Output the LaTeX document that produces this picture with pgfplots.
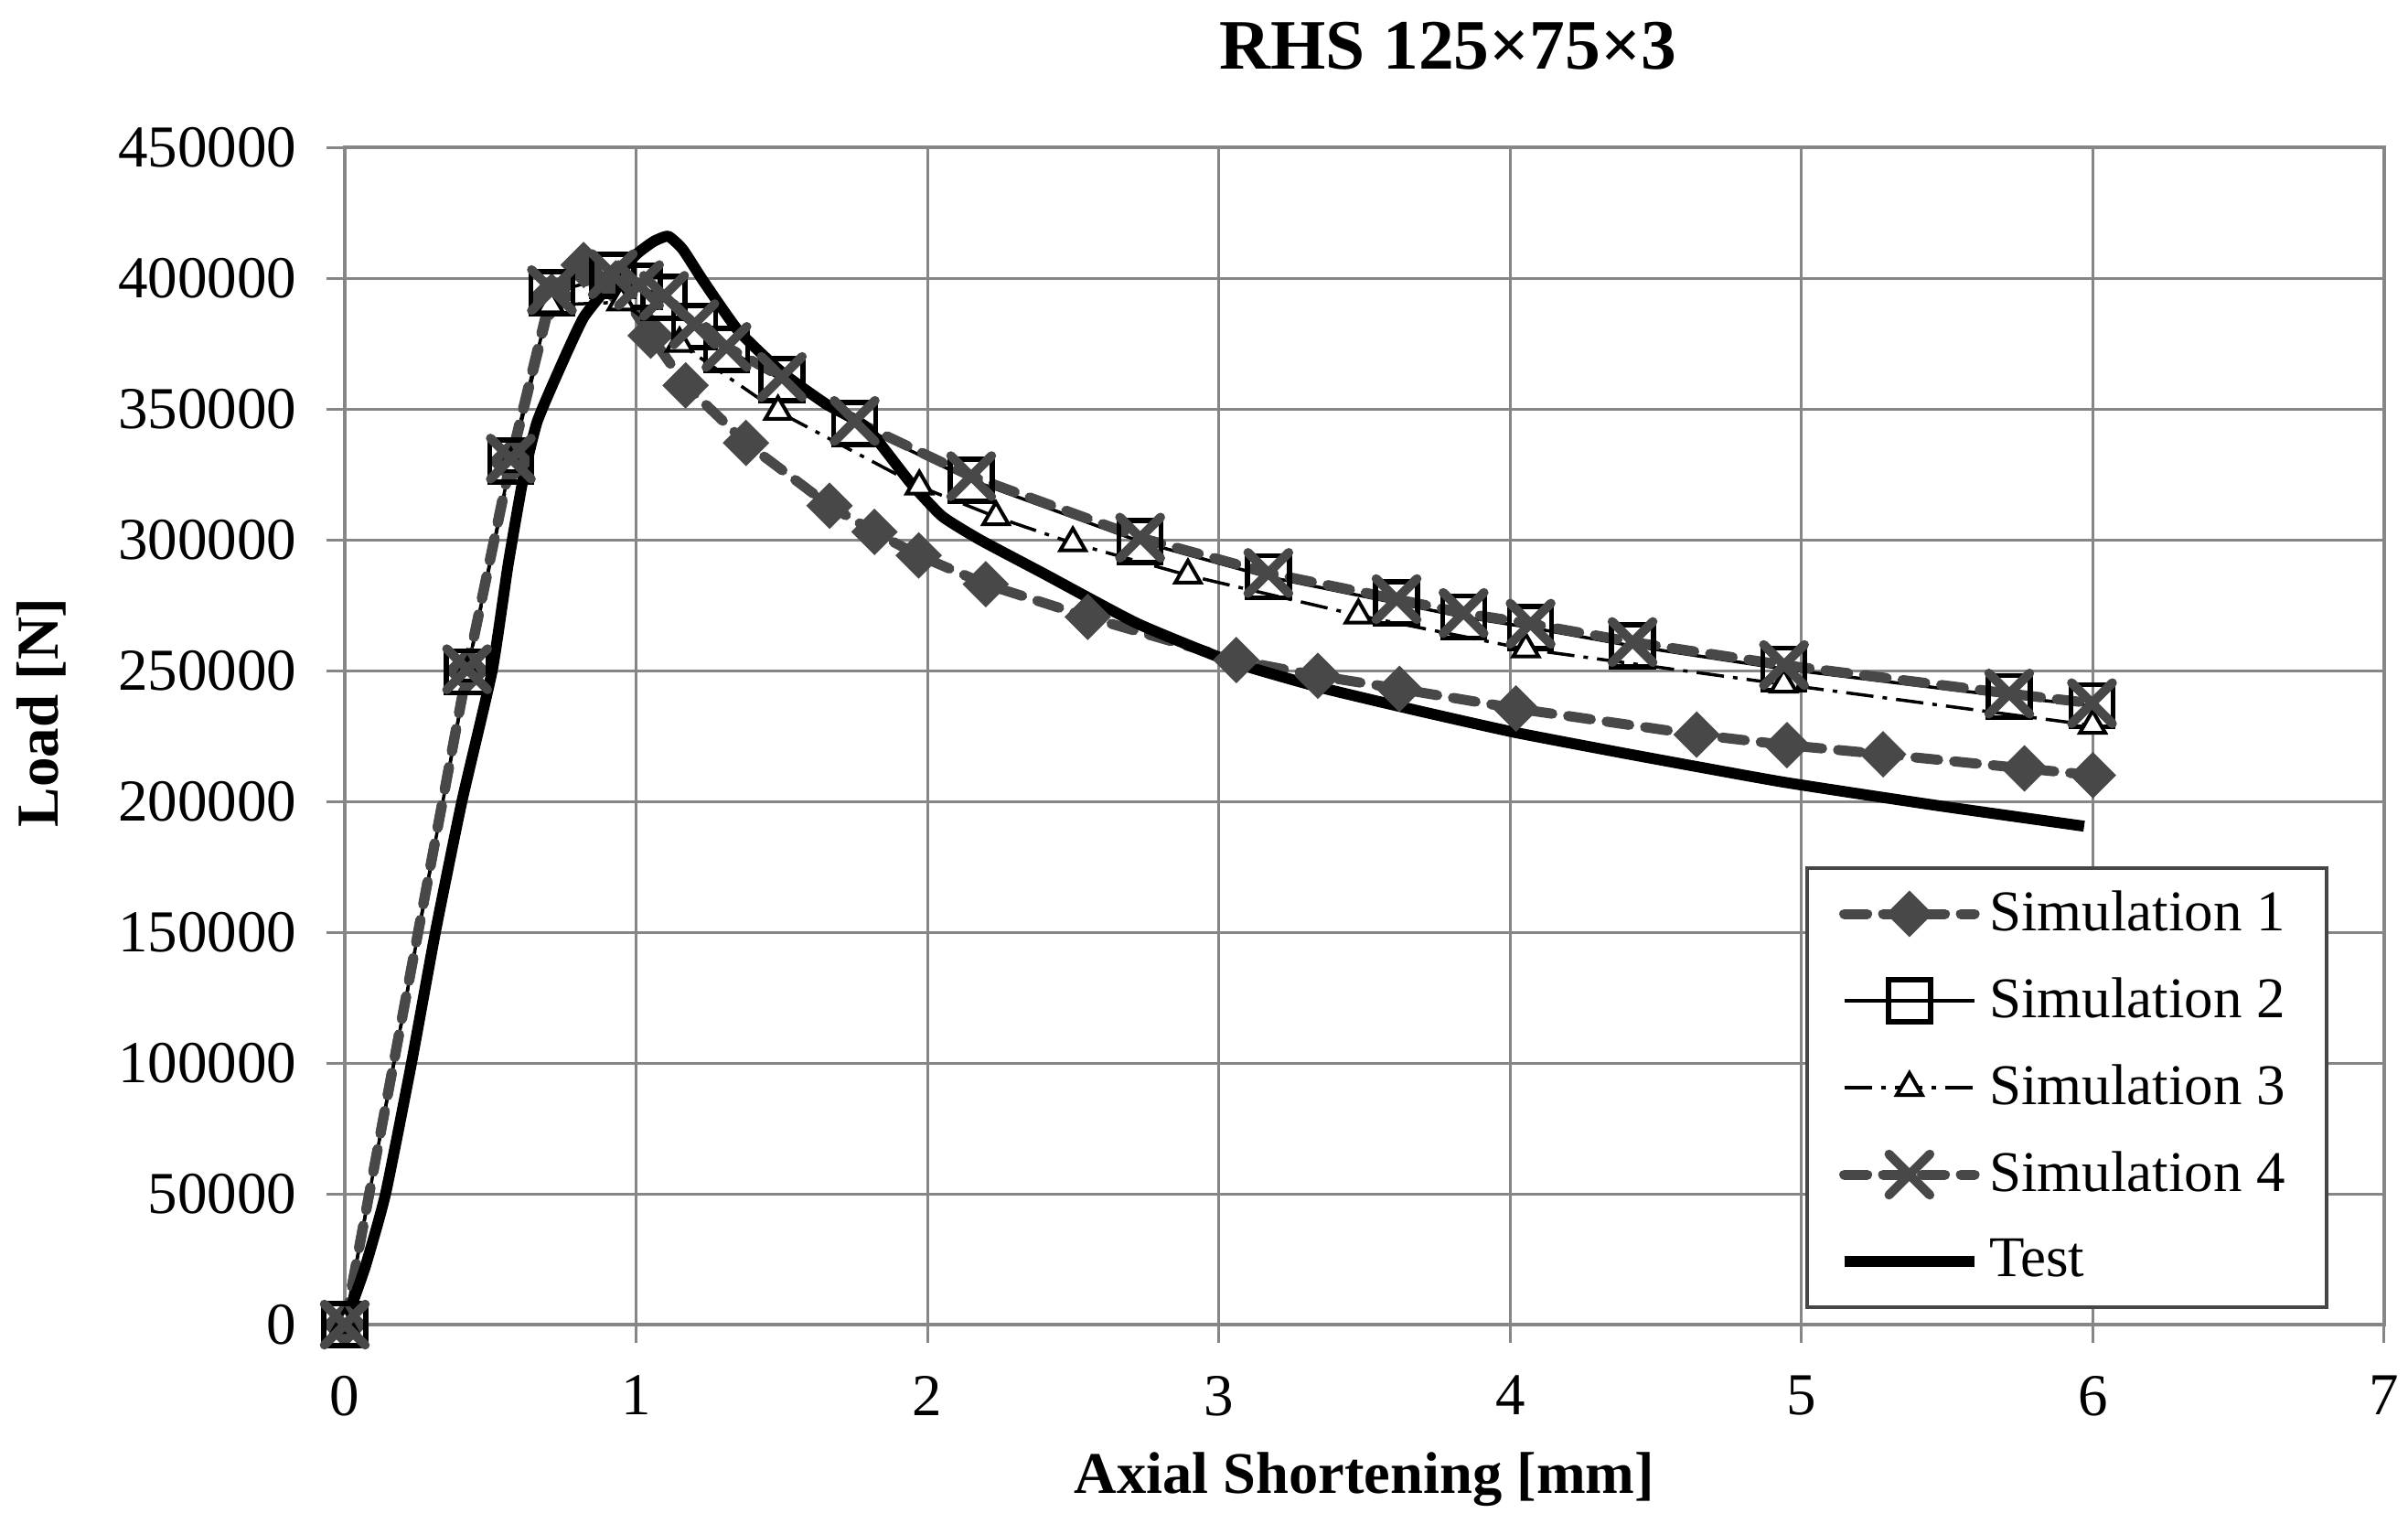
\documentclass[border=0pt]{standalone}
\usepackage{fontspec}
\setmainfont{Liberation Serif}
\usepackage{pgfplots}
\pgfplotsset{compat=1.18}
\definecolor{gridc}{RGB}{134,134,134}
\definecolor{sg}{RGB}{72,72,72}
\definecolor{legc}{RGB}{70,70,70}
\begin{document}
\begin{tikzpicture}
\begin{axis}[
  at={(0pt,0pt)}, anchor=south west,
  width=446pt, height=257.4pt, scale only axis,
  xmin=0, xmax=7, ymin=0, ymax=450000,
  xtick={0,1,2,3,4,5,6,7},
  ytick={0,50000,100000,150000,200000,250000,300000,350000,400000,450000},
  scaled y ticks=false,
  /pgf/number format/assume math mode=true,
  yticklabel style={/pgf/number format/fixed, /pgf/number format/1000 sep={}, font=\fontsize{13}{15}\selectfont, xshift=-3pt},
  xticklabel style={font=\fontsize{13}{15}\selectfont, inner sep=0pt, yshift=-7pt},
  grid=major,
  grid style={gridc, line width=0.6pt},
  axis line style={gridc, line width=0.7pt},
  tick style={gridc, line width=0.6pt},
  tick align=outside, major tick length=4pt,
  xtick pos=bottom, ytick pos=left,
  title={RHS 125×75×3},
  title style={font=\fontsize{15.5}{18}\selectfont\bfseries, inner sep=0pt, at={(axis description cs:0.541,1.0435)}, anchor=base},
  xlabel={Axial Shortening [mm]},
  xlabel style={font=\fontsize{12.9}{15}\selectfont\bfseries, inner sep=0pt, at={(axis description cs:0.5,-0.143)}, anchor=base},
  ylabel={Load [N]},
  ylabel style={font=\fontsize{13}{15}\selectfont\bfseries, inner sep=0pt, at={(axis description cs:-0.1489,0.52)}, anchor=center},
  legend image code/.code={\draw[mark repeat=2,mark phase=2] plot coordinates {(0pt,0pt)(14.25pt,0pt)(28.5pt,0pt)};},
  legend style={at={(0.9726,0.0132)}, anchor=south east, draw=legc, line width=0.8pt, fill=white,
    font=\fontsize{12.6}{15}\selectfont, inner xsep=7pt, inner ysep=0.5pt, row sep=0pt,
    nodes={minimum height=19pt}},
  legend cell align=left,
]
% Simulation 1
\addplot[sg, line width=2.2pt, dash pattern=on 5pt off 3.5pt, line cap=round,
  mark=square*, mark size=3.1pt, mark options={solid, fill=sg, draw=sg, line width=1pt, rotate=45}]
  coordinates {
  (0,0) (0.42,250000) (0.57,330000) (0.71,393000) (0.82,405000) (0.93,398000)
  (1.05,378000) (1.17,359000) (1.377,337000) (1.664,313000) (1.818,303000)
  (1.97,294000) (2.20,283000) (2.55,270500) (3.06,254000) (3.34,248000)
  (3.62,243000) (4.02,235500) (4.64,225500) (4.95,221500) (5.28,218000)
  (5.765,212600) (6.0,210000)};
\addlegendentry{Simulation 1}
% Simulation 2
\addplot[black, line width=0.7pt,
  mark=square, mark size=4.6pt, mark options={solid, draw=black, line width=1.1pt}]
  coordinates {
  (0,0) (0.42,249500) (0.57,330000) (0.711,394400) (0.92,401000) (1.01,396800)
  (1.096,392700) (1.20,381400) (1.31,372700) (1.50,361200) (1.75,344400)
  (2.15,322800) (2.73,299300) (3.17,285800) (3.61,275800) (3.84,270500)
  (4.07,266400) (4.42,259400) (4.94,250600) (5.713,240000) (5.997,236500)};
\addlegendentry{Simulation 2}
% Simulation 3
\addplot[black, line width=0.7pt, dash pattern=on 6pt off 2pt on 1pt off 2pt,
  mark=triangle*, mark size=3.2pt, mark options={solid, fill=white, draw=black, line width=0.8pt}]
  coordinates {
  (0,0) (0.42,249000) (0.57,329000) (0.706,389700) (0.949,390800) (1.149,375000)
  (1.487,349000) (1.972,320400) (2.235,308700) (2.499,298700) (2.894,286400)
  (3.479,271100) (4.054,258200) (4.939,244700) (5.999,229000)};
\addlegendentry{Simulation 3}
% Simulation 4
\addplot[sg, line width=2.2pt, dash pattern=on 5pt off 3.5pt, line cap=round,
  mark=x, mark size=6.3pt, mark options={solid, draw=sg, line width=2pt}]
  coordinates {
  (0,0) (0.42,250500) (0.57,331000) (0.711,395400) (0.92,401500) (1.01,397300)
  (1.096,393200) (1.20,382400) (1.31,373700) (1.50,362200) (1.75,345400)
  (2.15,324300) (2.73,300800) (3.17,287300) (3.61,277300) (3.84,272000)
  (4.07,267900) (4.42,260900) (4.94,252100) (5.713,241200) (5.997,237500)};
\addlegendentry{Simulation 4}
% Test
\addplot[black, line width=2.4pt, line join=round, smooth, tension=0.3]
  coordinates {
  (0,0) (0.07,22000) (0.14,50000) (0.229,100000) (0.311,150000) (0.402,200000)
  (0.506,250000) (0.56,290000) (0.61,322000) (0.66,345000) (0.74,366000)
  (0.82,385000) (0.92,399000) (1.0,409000) (1.06,414000) (1.11,416000)
  (1.16,411000) (1.23,399000) (1.35,380000) (1.50,364000) (1.65,352000)
  (1.79,343000) (1.94,322000) (2.05,309000) (2.18,300000) (2.40,287000)
  (2.72,268000) (3.04,253500) (3.35,243500) (3.67,235000) (4.01,226500)
  (4.41,218000) (4.93,207500) (5.46,198500) (5.97,190500)};
\addlegendentry{Test}
\end{axis}
\path (-75.4pt,-43.4pt) rectangle (451.2pt,289.6pt);
\end{tikzpicture}
\end{document}
